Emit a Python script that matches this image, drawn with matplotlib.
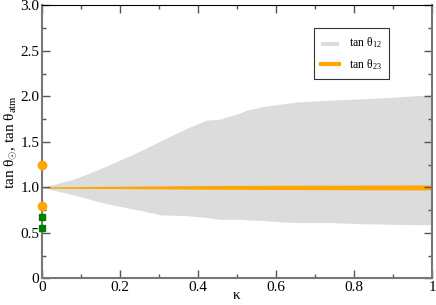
import numpy as np
import matplotlib
matplotlib.use("Agg")
import matplotlib.pyplot as plt
from matplotlib.ticker import MultipleLocator, FuncFormatter

# grey band: range of tan theta_12 vs kappa
kappa_12 = [0.0, 0.08, 0.123, 0.157, 0.226, 0.251, 0.303, 0.371, 0.422,
            0.456, 0.508, 0.525, 0.567, 0.619, 0.653, 0.738, 0.824, 0.867,
            0.892, 1.0]
upper_12 = [1.0, 1.09, 1.16, 1.22, 1.35, 1.40, 1.51, 1.65, 1.74,
            1.75, 1.82, 1.85, 1.89, 1.92, 1.94, 1.96, 1.975, 1.985,
            1.99, 2.02]
lower_12 = [1.0, 0.92, 0.87, 0.83, 0.77, 0.75, 0.70, 0.69, 0.67,
            0.65, 0.65, 0.645, 0.637, 0.62, 0.615, 0.615, 0.60, 0.60,
            0.595, 0.59]

# orange band: tan theta_23 stays close to 1
kappa_23 = [0.0, 0.2, 0.4, 0.6, 0.8, 1.0]
upper_23 = [1.0, 1.008, 1.014, 1.018, 1.02, 1.022]
lower_23 = [1.0, 0.994, 0.988, 0.984, 0.981, 0.979]

# markers at kappa = 0
orange_pts = [1.25, 0.80]
green_pts = [0.68, 0.56]


def tick_fmt(value, pos):
    '''
    0 -> "0", else one decimal.
    '''
    if abs(value) < 1e-9:
        return "0"
    return f"{value:.1f}"


def main():
    plt.rcParams["font.family"] = ["Liberation Serif", "DejaVu Serif"]
    plt.rcParams["mathtext.fontset"] = "custom"
    plt.rcParams["mathtext.rm"] = "Liberation Serif"
    plt.rcParams["mathtext.it"] = "Liberation Serif"
    plt.rcParams["mathtext.default"] = "rm"

    fig = plt.figure(figsize=(4.36, 3.05), dpi=100)
    ax = fig.add_axes([0.0963, 0.087, 0.8945, 0.895])

    ax.fill_between(kappa_12, lower_12, upper_12, color="#dcdcdc",
                    linewidth=0, label=r"tan θ$_{12}$")
    ax.fill_between(kappa_23, lower_23, upper_23, color="#ffa500",
                    linewidth=0.8, edgecolor="#ffa500")
    ax.plot([], [], color="#ffa500", lw=3, label=r"tan θ$_{23}$")

    ax.plot([0] * len(orange_pts), orange_pts, "o", color="#ffa500",
            ms=6, clip_on=False, zorder=5)
    ax.plot([0] * len(green_pts), green_pts, "s", color="#008000",
            ms=5, clip_on=False, zorder=5)

    ax.set_xlim(0, 1)
    ax.set_ylim(0, 3)
    ax.xaxis.set_major_locator(MultipleLocator(0.2))
    ax.xaxis.set_minor_locator(MultipleLocator(0.1))
    ax.yaxis.set_major_locator(MultipleLocator(0.5))
    ax.yaxis.set_minor_locator(MultipleLocator(0.25))
    ax.xaxis.set_major_formatter(FuncFormatter(
        lambda v, p: "1" if abs(v - 1) < 1e-9 else tick_fmt(v, p)))
    ax.yaxis.set_major_formatter(FuncFormatter(tick_fmt))
    ax.tick_params(which="both", direction="in", top=True, right=True,
                   color="#555555", labelsize=11, pad=2)
    ax.tick_params(which="major", length=6, width=1)
    ax.tick_params(which="minor", length=3, width=1)
    for side in ["left", "right", "bottom"]:
        ax.spines[side].set_color("#777777")
        ax.spines[side].set_linewidth(1.5)
    ax.spines["top"].set_color("black")

    ax.set_xlabel("κ", fontsize=11, labelpad=-4)
    ax.set_ylabel(r"tan θ$_{\odot}$, tan θ$_{atm}$", fontsize=11, labelpad=1)

    leg = ax.legend(loc="upper left", bbox_to_anchor=(0.697, 0.918),
                    fontsize=8.5, frameon=True, fancybox=False,
                    handlelength=1.5, borderpad=0.6, labelspacing=0.6,
                    handletextpad=0.9, borderaxespad=0)
    leg.get_frame().set_edgecolor("black")
    leg.get_frame().set_linewidth(0.8)
    leg.legend_handles[0].set_height(3)

    fig.savefig("out.png", dpi=100)


if __name__ == "__main__":
    main()
